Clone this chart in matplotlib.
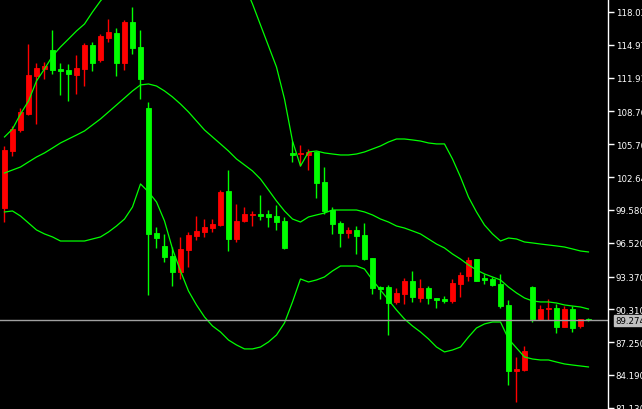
### candlestick chart with bollinger bands, terminal style
import numpy as np
import matplotlib.pyplot as plt

# OHLC values
opens = [99.76, 105.07, 107.03, 108.52, 112.06, 112.72, 114.49, 112.72, 112.62, 112.16,
         112.72, 114.95, 113.56, 115.61, 116.07, 113.28, 117.10, 114.77, 109.08, 97.43,
         96.22, 95.28, 93.79, 95.84, 97.15, 97.52, 97.89, 98.17, 101.34, 96.87,
         98.55, 99.11, 99.20, 99.20, 99.01, 98.55, 104.89, 104.75, 104.70, 104.98,
         102.18, 99.57, 98.36, 97.43, 97.71, 97.24, 95.10, 92.39, 92.39, 91.00,
         91.74, 92.95, 91.37, 92.30, 91.37, 91.28, 91.09, 92.67, 93.42, 95.00,
         93.23, 93.14, 92.67, 90.72, 84.56, 84.66, 92.39, 89.41, 90.34, 90.44,
         88.67, 90.34, 88.76, 89.41]
highs = [105.54, 107.40, 109.08, 115.05, 113.28, 113.37, 116.35, 113.28, 113.18, 114.02,
         115.14, 115.23, 115.98, 117.38, 116.54, 117.28, 118.50, 116.35, 109.64, 97.99,
         97.34, 96.12, 97.06, 97.52, 99.01, 98.73, 98.73, 101.44, 103.30, 100.13,
         99.85, 99.48, 100.97, 99.57, 100.04, 98.92, 106.00, 105.63, 105.26, 105.07,
         103.58, 99.85, 98.55, 97.99, 98.08, 98.36, 95.10, 92.49, 92.58, 92.30,
         93.23, 93.89, 93.14, 92.49, 91.37, 91.56, 93.14, 93.79, 95.19, 95.00,
         93.61, 93.33, 93.61, 91.18, 85.87, 86.89, 92.49, 90.72, 91.28, 90.81,
         90.62, 90.62, 89.41, 89.51]
lows = [98.45, 104.61, 106.84, 108.43, 107.59, 111.78, 112.25, 110.29, 109.73, 110.39,
        111.13, 112.53, 113.37, 115.23, 112.06, 112.62, 114.11, 109.92, 91.65, 96.03,
        94.73, 92.49, 93.14, 94.26, 96.78, 97.06, 97.52, 98.08, 95.75, 96.59,
        98.45, 98.08, 98.64, 97.99, 97.71, 95.94, 104.05, 103.67, 103.30, 100.69,
        99.20, 97.34, 96.12, 96.96, 95.47, 94.91, 91.74, 91.28, 87.92, 90.81,
        90.81, 91.00, 91.00, 90.81, 90.44, 90.90, 90.90, 91.46, 92.95, 92.95,
        92.67, 92.49, 90.44, 83.26, 81.67, 84.56, 89.13, 89.32, 89.32, 88.11,
        88.67, 88.20, 88.57, 89.23]
closes = [105.17, 107.12, 108.71, 112.16, 112.81, 113.00, 112.62, 112.53, 112.25, 112.81,
          114.95, 113.28, 115.79, 116.17, 113.28, 117.10, 114.67, 111.78, 97.34, 96.96,
          95.19, 93.79, 95.94, 97.24, 97.62, 97.99, 98.27, 101.25, 96.87, 98.55,
          99.20, 99.20, 99.01, 98.92, 98.45, 96.03, 104.70, 104.84, 104.98, 102.09,
          99.48, 98.27, 97.43, 97.71, 97.15, 95.00, 92.30, 92.21, 90.90, 91.84,
          92.95, 91.46, 92.30, 91.37, 91.18, 91.09, 92.77, 93.51, 94.91, 92.95,
          93.05, 92.58, 90.62, 84.56, 84.75, 86.43, 89.41, 90.34, 90.44, 88.67,
          90.34, 88.57, 89.41, 89.27]

# bollinger bands
bb_upper = [106.38, 107.12, 108.52, 109.73, 111.60, 112.72, 113.93, 114.77, 115.51, 116.26,
            116.91, 118.03, 119.06, 119.90, 120.64, 121.29, 121.48, 120.45, 121.39, 121.95,
            122.78, 124.28, 125.02, 125.39, 125.02, 124.46, 124.00, 123.25, 122.69, 121.67,
            120.55, 118.78, 116.82, 114.86, 112.90, 109.92, 106.00, 103.67, 104.98, 105.07,
            104.89, 104.79, 104.70, 104.70, 104.79, 104.98, 105.26, 105.54, 105.91, 106.19,
            106.19, 106.10, 106.00, 105.82, 105.73, 105.73, 104.33, 102.65, 100.78, 99.39,
            98.17, 97.34, 96.68, 96.96, 96.87, 96.59, 96.50, 96.40, 96.31, 96.22,
            96.12, 95.94, 95.75, 95.66]
bb_middle = [103.02, 103.30, 103.58, 104.05, 104.51, 104.89, 105.35, 105.82, 106.19, 106.56,
             106.94, 107.50, 108.06, 108.71, 109.36, 110.01, 110.67, 111.23, 111.32, 111.13,
             110.67, 110.11, 109.45, 108.71, 107.87, 107.03, 106.38, 105.73, 105.07, 104.33,
             103.77, 103.21, 102.46, 101.44, 100.41, 99.48, 98.73, 98.45, 98.92, 99.11,
             99.29, 99.57, 99.57, 99.57, 99.57, 99.39, 99.11, 98.73, 98.45, 98.08,
             97.89, 97.62, 97.34, 96.87, 96.40, 96.03, 95.47, 95.00, 94.45, 93.98,
             93.61, 93.33, 93.05, 92.39, 91.84, 91.37, 91.09, 91.00, 91.00, 90.90,
             90.72, 90.62, 90.53, 90.34]
bb_lower = [99.39, 99.48, 99.01, 98.36, 97.71, 97.34, 97.06, 96.68, 96.68, 96.68,
            96.68, 96.87, 97.06, 97.52, 98.08, 98.73, 99.85, 102.00, 101.25, 100.32,
            98.55, 95.94, 93.89, 92.02, 90.72, 89.60, 88.76, 88.20, 87.45, 86.99,
            86.62, 86.62, 86.80, 87.27, 87.92, 89.04, 91.00, 93.14, 92.86, 93.05,
            93.33, 93.89, 94.35, 94.35, 94.35, 94.07, 93.05, 92.11, 91.18, 90.25,
            89.41, 88.76, 88.20, 87.55, 86.80, 86.34, 86.52, 86.80, 87.73, 88.57,
            88.95, 89.13, 89.13, 87.55, 86.71, 85.87, 85.68, 85.59, 85.59, 85.40,
            85.22, 85.12, 85.03, 84.94]

price_ticks = [118.030, 114.970, 111.910, 108.760, 105.700, 102.640, 99.580,
               96.520, 93.370, 90.310, 87.250, 84.190, 81.130]
bid = 89.274

fig = plt.figure(figsize=(6.42, 4.10), dpi=100, facecolor='black')
ax = fig.add_axes([0, 0, 608 / 642, 1], facecolor='black')

x = np.arange(len(opens))
o = np.array(opens)
c = np.array(closes)
up = c >= o
cols = np.where(up, '#ff0000', '#00ff00')

# wicks then bodies
ax.vlines(x, lows, highs, colors=cols, linewidth=1)
body_lo = np.minimum(o, c)
body_h = np.maximum(np.abs(c - o), 0.05)
ax.bar(x, body_h, bottom=body_lo, width=0.6, color=cols, edgecolor=cols, linewidth=0.6)

# bands
for band in (bb_upper, bb_middle, bb_lower):
    ax.plot(x, band, color='#00ff00', linewidth=0.9)

# bid line
ax.axhline(bid, color='#a0a0a0', linewidth=1)

ax.set_xlim(-0.5625, 75.44)
ax.set_ylim(81.02, 119.24)

ax.set_xticks([])
ax.yaxis.tick_right()
ax.set_yticks(price_ticks)
ax.set_yticklabels(['%.3f' % t for t in price_ticks])
ax.tick_params(axis='y', colors='white', length=4, width=1, labelsize=6.2, pad=1.5)
for s in ('top', 'left', 'bottom'):
    ax.spines[s].set_visible(False)
ax.spines['right'].set_color('white')
ax.spines['right'].set_linewidth(1)

ax.annotate('%.3f' % bid, xy=(1, bid), xycoords=('axes fraction', 'data'),
            xytext=(5.5, 0), textcoords='offset points', va='center', ha='left',
            fontsize=6.2, color='black',
            bbox=dict(boxstyle='square,pad=0.15', fc='#c0c0c0', ec='#c0c0c0'))

plt.savefig('out.png', dpi=100, facecolor='black')
